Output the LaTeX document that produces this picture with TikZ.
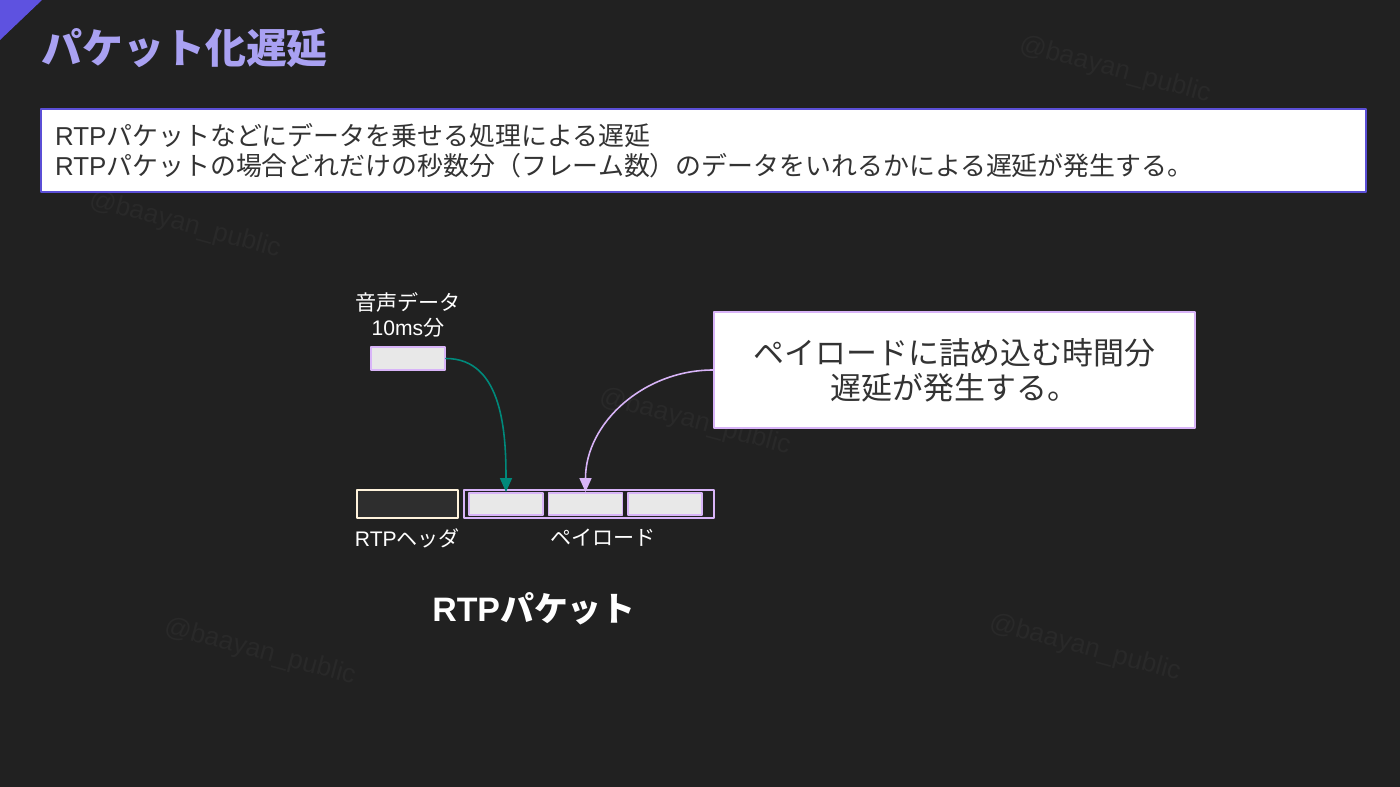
\documentclass[tikz,border=0pt]{standalone}
\usepackage{fontspec}
\setmainfont{Noto Sans CJK JP}
\newfontfamily\wmfont{Liberation Sans}
\newcommand{\lat}[1]{{\wmfont #1}}
\usetikzlibrary{arrows.meta}
\definecolor{nen}{HTML}{212121}
\definecolor{cheo}{HTML}{5E52E0}
\definecolor{tieude}{HTML}{A9A1F2}
\definecolor{vien}{HTML}{5B4FD6}
\definecolor{tim}{HTML}{D8B4F8}
\definecolor{xanh}{HTML}{00897B}
\definecolor{kem}{HTML}{FFF3DC}
\definecolor{dam}{HTML}{2E2E2E}
\definecolor{xam}{HTML}{E8E8E8}
\definecolor{chu}{HTML}{333333}
\definecolor{mo}{HTML}{292929}
\begin{document}
\begin{tikzpicture}[>={Triangle[length=2.8mm,width=2.4mm]},line join=round,line cap=round,x=0.02cm,y=-0.02cm]
	\tikzset{
		hop/.style={draw=tim,line width=1.1pt,fill=xam,inner sep=0pt,minimum width=1.48cm,minimum height=0.44cm},
		nhan/.style={text=white,font=\fontsize{12}{14.7}\selectfont,align=center,inner sep=0pt},
		wm/.style={text=mo,font=\wmfont\fontsize{15}{18}\selectfont,rotate=-15},
		hopchu/.style={draw=tim,line width=1.1pt,fill=white,text=chu,align=center,inner sep=0pt,
			minimum width=9.62cm,minimum height=2.32cm,font=\fontsize{17.6}{19.8}\selectfont}
	}
	\fill[nen] (0,0) rectangle (1400,787);
	\useasboundingbox (0,0) rectangle (1400,787);
	\fill[cheo] (0,0)--(42,0)--(0,40)--cycle;
	\foreach \x/\y in {185/225,1115/70,695/422,260/652,1085/648}{
		\node[wm] at (\x,\y) {@baayan\_public};
	}
	\node[anchor=west,text=tieude,inner sep=0pt,font=\fontsize{23.3}{26}\selectfont\bfseries] (title) at (41,48) {パケット化遅延};
	\node[draw=vien,line width=1.2pt,fill=white,text=chu,align=left,inner xsep=0.28cm,inner ysep=0pt,
		text width=25.94cm,minimum height=1.66cm,font=\fontsize{14.75}{17}\selectfont] (ghichu) at (703.5,150.5)
		{\lat{RTP}パケットなどにデータを乗せる処理による遅延\\\lat{RTP}パケットの場合どれだけの秒数分（フレーム数）のデータをいれるかによる遅延が発生する。};
	\node[nhan] (laudio) at (408,315) {音声データ\\\lat{10ms}分};
	\node[hop,minimum height=0.46cm] (audio) at (408,358.5) {};
	\node[draw=kem,fill=dam,line width=1.1pt,inner sep=0pt,minimum width=2.02cm,minimum height=0.56cm] (header) at (407.5,504) {};
	\node[draw=tim,line width=1.1pt,inner sep=0pt,minimum width=5cm,minimum height=0.56cm] (payload) at (589,504) {};
	\foreach \i/\x in {1/506,2/585.5,3/665}{
		\node[hop] (p\i) at (\x,504) {};
	}
	\node[nhan] (lheader) at (407.5,538) {\lat{RTP}ヘッダ};
	\node[nhan] (lpayload) at (603,538) {ペイロード};
	\node[text=white,inner sep=0pt,font=\fontsize{19.3}{22}\selectfont\bfseries] (packet) at (534,609) {\lat{RTP}パケット};
	\node[hopchu] (callout) at (954.5,370) {ペイロードに詰め込む時間分\\遅延が発生する。};
	\draw[->,xanh,line width=0.9pt] (audio.east) to[out=0,in=90] (p1.north);
	\draw[->,tim,line width=0.9pt] (callout.west) to[out=180,in=90] (p2.north);
\end{tikzpicture}
\end{document}
